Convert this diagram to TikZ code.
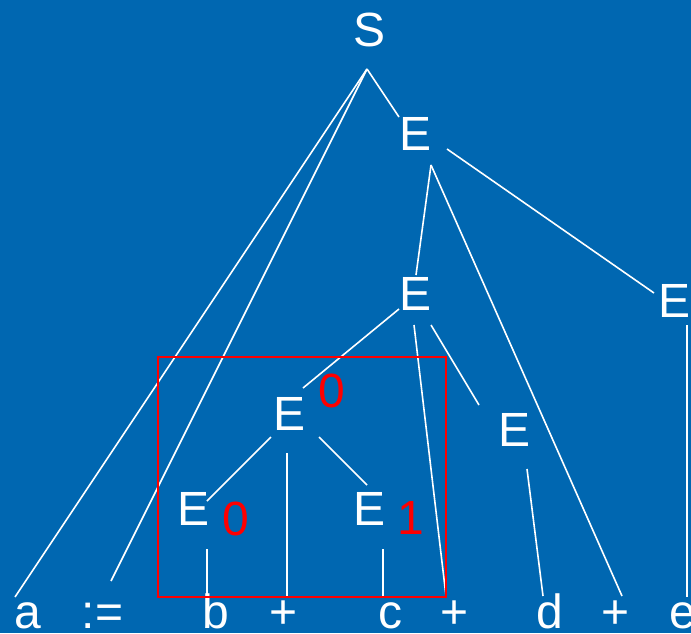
\documentclass[tikz,border=0pt]{standalone}
\usepackage{fontspec}
\setmainfont{Liberation Sans}
\usetikzlibrary{calc}
\definecolor{slideblue}{RGB}{0,103,177}
\definecolor{markred}{RGB}{255,0,0}
\tikzset{
  sym/.style={text=white,font=\fontsize{36}{40}\selectfont,anchor=base,inner sep=0pt},
  idx/.style={text=markred,font=\fontsize{36}{40}\selectfont,anchor=base,inner sep=0pt},
  branch/.style={draw=white,line width=1.2pt},
  redbox/.style={draw=markred,line width=1.5pt}
}

\begin{document}
\begin{tikzpicture}[x=0.75pt,y=-0.75pt]
  \useasboundingbox (0,0) rectangle (691,633);
  \fill[slideblue] (0,0) rectangle (691,633);
  % nonterminals
  \node[sym] (S) at (370,46) {S};
  \node[sym] (E1) at (415,150) {E};
  \node[sym] (E2) at (415,310) {E};
  \node[sym] (E3) at (674,317) {E};
  \node[sym] (E4) at (290,430) {E};
  \node[sym] (E5) at (194,525) {E};
  \node[sym] (E6) at (370,525) {E};
  \node[sym] (E7) at (514,446) {E};
  % red marks
  \node[idx] (m4) at (332,407) {0};
  \node[idx] (m5) at (236,535) {0};
  \node[idx] (m6) at (411,534) {1};
  % leaves
  \node[sym] (a) at (27.5,628) {a};
  \node[sym] (asg) at (102.5,628) {:=};
  \node[sym] (b) at (215.5,628) {b};
  \node[sym] (p1) at (283.5,628) {+};
  \node[sym] (c) at (390,628) {c};
  \node[sym] (p2) at (454.5,628) {+};
  \node[sym] (d) at (549.5,628) {d};
  \node[sym] (p3) at (616,628) {+};
  \node[sym] (e) at (683,628) {e};
  % branches
  \draw[branch] ($(S.base)+(-3,23)$) -- ($(a.base)+(-12.5,-31)$);
  \draw[branch] ($(S.base)+(-3,23)$) -- ($(asg.base)+(8.5,-47)$);
  \draw[branch] ($(S.base)+(-3,23)$) -- ($(E1.base)+(-16,-33)$);
  \draw[branch] ($(E1.base)+(32,-1)$) -- ($(E3.base)+(-20,-24)$);
  \draw[branch] ($(E1.base)+(16,15)$) -- ($(E2.base)+(1,-35)$);
  \draw[branch] ($(E1.base)+(16,15)$) -- ($(p3.base)+(6,-32)$);
  \draw[branch] ($(E2.base)+(-16,-1)$) -- ($(E4.base)+(13,-42)$);
  \draw[branch] ($(E2.base)+(-1,15)$) -- ($(p2.base)+(-8.5,-32)$);
  \draw[branch] ($(E2.base)+(16,15)$) -- ($(E7.base)+(-35,-41)$);
  \draw[branch] ($(E7.base)+(13,23)$) -- ($(d.base)+(-6.5,-32)$);
  \draw[branch] ($(E3.base)+(13,8)$) -- ($(e.base)+(4,-31)$);
  \draw[branch] ($(E4.base)+(-19,7)$) -- ($(E5.base)+(13,-24)$);
  \draw[branch] ($(E4.base)+(-3,23)$) -- ($(p1.base)+(3.5,-31)$);
  \draw[branch] ($(E4.base)+(29,7)$) -- ($(E6.base)+(-3,-40)$);
  \draw[branch] ($(E5.base)+(13,24)$) -- ($(b.base)+(-8.5,-31)$);
  \draw[branch] ($(E6.base)+(13,24)$) -- ($(c.base)+(-7,-31)$);
  % handle box
  \draw[redbox] (158,357) rectangle (446,597);
\end{tikzpicture}
\end{document}
